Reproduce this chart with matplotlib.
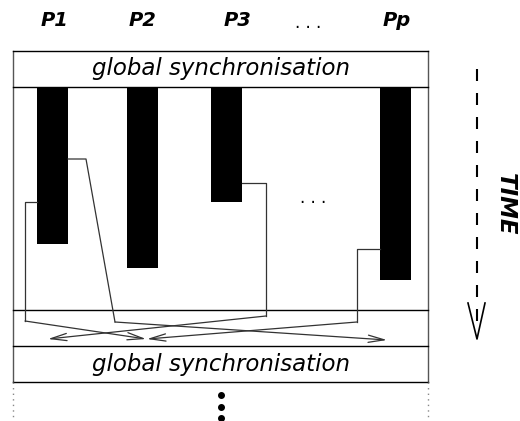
import matplotlib
matplotlib.use("Agg")
import matplotlib.pyplot as plt
from matplotlib.patches import Rectangle, FancyArrowPatch

# processors (column labels, bar left edge, bar bottom, in pixel units)
proc_labels = ["P1", "P2", "P3", "Pp"]
label_x = [55, 143, 238, 397]
bar_left = [37, 127, 211, 380]
bar_bottom = [244, 268, 202, 280]
bar_width = 31

# communication paths (x, y points); last segment ends in an arrow
comm_paths = [
    [(37, 202), (25, 202), (25, 321), (146, 339)],
    [(68, 159), (86, 159), (115, 322), (387, 340)],
    [(242, 183), (266, 183), (266, 316), (48, 339)],
    [(380, 249), (357, 249), (357, 322), (147, 339)],
]

# frame geometry
box_left, box_right = 13, 428
top_sync = (51, 87)
bottom_sync = (346, 382)
comm_line = 310

fig = plt.figure(figsize=(5.2, 4.21), dpi=100)
ax = fig.add_axes([0, 0, 1, 1])
ax.set_xlim(0, 520)
ax.set_ylim(421, 0)
ax.axis("off")

# outer frame
ax.plot([box_left, box_left], [top_sync[0], bottom_sync[1]], color="#555555", lw=1)
ax.plot([box_right, box_right], [top_sync[0], bottom_sync[1]], color="#555555", lw=1)
for y in [top_sync[0], top_sync[1], comm_line, bottom_sync[0], bottom_sync[1]]:
    ax.plot([box_left, box_right], [y, y], color="black", lw=1)
ax.plot([box_left, box_left], [bottom_sync[1], 421], color="#888888", lw=1, ls=(0, (1, 3)))
ax.plot([box_right, box_right], [bottom_sync[1], 421], color="#888888", lw=1, ls=(0, (1, 3)))

# sync text
txt_kw = dict(ha="center", va="center", fontsize=16.5, style="italic", family="DejaVu Sans")
ax.text((box_left + box_right) / 2, sum(top_sync) / 2, "global synchronisation", **txt_kw)
ax.text((box_left + box_right) / 2, sum(bottom_sync) / 2, "global synchronisation", **txt_kw)

# processor labels
for lab, x in zip(proc_labels, label_x):
    ax.text(x, 21, lab, ha="center", va="center", fontsize=14, weight="bold", style="italic")
ax.text(308, 23, ". . .", ha="center", va="center", fontsize=12)

# computation bars
for x0, yb in zip(bar_left, bar_bottom):
    ax.add_patch(Rectangle((x0, top_sync[1]), bar_width, yb - top_sync[1], color="black", lw=0))
ax.text(313, 198, ". . .", ha="center", va="center", fontsize=12)

# communication
for path in comm_paths:
    xs = [p[0] for p in path]
    ys = [p[1] for p in path]
    ax.plot(xs[:-1], ys[:-1], color="#333333", lw=0.9)
    ax.add_patch(FancyArrowPatch(path[-2], path[-1], arrowstyle="->,head_length=11.5,head_width=2.6",
                                 mutation_scale=1, shrinkA=0, shrinkB=0, color="#333333", lw=0.9))

# more supersteps
for y in [395, 407, 418]:
    ax.plot(221, y, "o", color="black", ms=4)

# time axis
ax.plot([477, 477], [69, 325], color="black", lw=1.5, ls=(0, (5.76, 5.76)))
ax.plot([468, 477, 485], [303, 339, 303], color="black", lw=1.2)
ax.text(505, 204, "TIME", rotation=-90, ha="center", va="center", fontsize=16.5,
        weight="bold", style="italic")

fig.savefig("out.png", dpi=100)
